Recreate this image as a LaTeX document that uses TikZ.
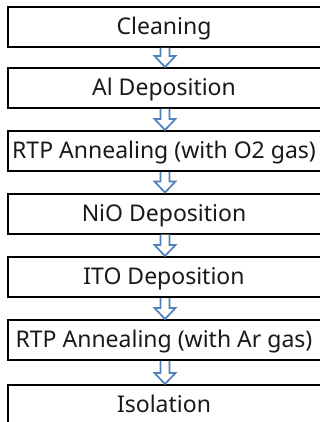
\documentclass[tikz,border=0pt]{standalone}
\usepackage{fontspec}
\setmainfont{Noto Sans}
\usetikzlibrary{calc}
\definecolor{arrblue}{HTML}{4F81BD}
\tikzset{
  stepbox/.style={draw=black, line width=2pt, fill=white, minimum width=314pt, minimum height=40pt, inner sep=0pt, text=black!90},
  steptext/.style={font=\fontsize{23}{25}\selectfont, anchor=base, text=black!90, inner sep=0pt},
  flowarr/.style={draw=arrblue, line width=1.7pt, fill=white, line join=miter}
}
\newcommand{\flowarrow}[2]{%
  \path (#1.south) coordinate (t) (#2.north) coordinate (u);
  \draw[flowarr] ($(t)+(-4.5,0)$) -- ($(u)+(-4.5,-11)$) -- ($(u)+(-10.5,-11)$) -- (u) -- ($(u)+(10.5,-11)$) -- ($(u)+(4.5,-11)$) -- ($(t)+(4.5,0)$);
}
\newcommand{\steplabel}[2]{%
  \node[steptext] at ($(#1.center)+(-1,7.5)$) {#2};
}
\begin{document}
\begin{tikzpicture}[x=1pt,y=-1pt]
\useasboundingbox (0,0) rectangle (320,422);
\begin{scope}
\clip (0,0) rectangle (320,422);
\node[stepbox] (s1) at (165,27) {};
\node[stepbox] (s2) at (165,88) {};
\node[stepbox] (s3) at (165,151) {};
\node[stepbox] (s4) at (165,213.5) {};
\node[stepbox] (s5) at (165,277) {};
\node[stepbox] (s6) at (165,340) {};
\node[stepbox] (s7) at (165,405) {};
\steplabel{s1}{Cleaning}
\steplabel{s2}{Al Deposition}
\steplabel{s3}{RTP Annealing (with O2 gas)}
\steplabel{s4}{NiO Deposition}
\steplabel{s5}{ITO Deposition}
\steplabel{s6}{RTP Annealing (with Ar gas)}
\steplabel{s7}{Isolation}
\flowarrow{s1}{s2}
\flowarrow{s2}{s3}
\flowarrow{s3}{s4}
\flowarrow{s4}{s5}
\flowarrow{s5}{s6}
\flowarrow{s6}{s7}
\end{scope}
\end{tikzpicture}
\end{document}
